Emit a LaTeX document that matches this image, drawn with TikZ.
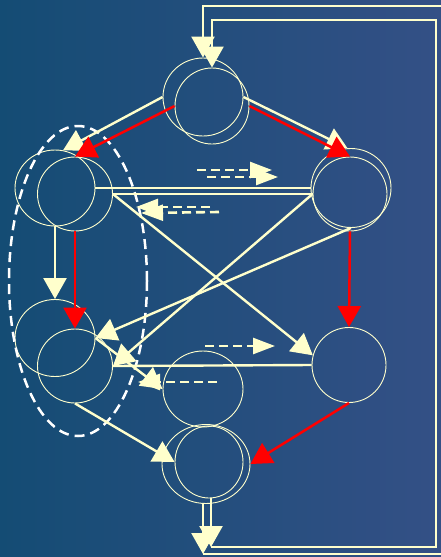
\documentclass[tikz,border=0pt]{standalone}
\usetikzlibrary{arrows.meta,shapes.geometric}
\definecolor{cream}{RGB}{255,255,204}
\definecolor{bgL}{RGB}{20,76,116}
\definecolor{bgM}{RGB}{66,94,142}
\definecolor{bgR}{RGB}{52,80,134}
\begin{document}
\begin{tikzpicture}[x=1pt,y=-1pt,
  ring/.style={draw=cream, line width=0.9pt, ellipse, inner sep=0pt},
  edge/.style={draw=cream, line width=2.4pt},
  redge/.style={draw=red, line width=2.5pt},
  tip/.style={-{Triangle[length=21pt,width=23pt]}},
  dtip/.style={-{Triangle[length=22pt,width=16pt]}},
  dline/.style={draw=cream, line width=2.6pt, dash pattern=on 9pt off 5pt},
  loopline/.style={draw=cream, line width=2.6pt}]
\useasboundingbox (0,0) rectangle (441,557);
\shade[left color=bgL, middle color=bgM, right color=bgR] (0,0) rectangle (441,557);
\clip (0,0) rectangle (441,557);

% nodes (layer 1)
\node[ring, minimum width=80pt, minimum height=78pt] (t1) at (203,97) {};
\node[ring, minimum width=80pt, minimum height=76pt] (l1) at (55,188) {};
\node[ring, minimum width=80pt, minimum height=79pt] (r1) at (351,188) {};
\node[ring, minimum width=80pt, minimum height=77pt] (lb1) at (55,338) {};
\node[ring, minimum width=74pt, minimum height=75pt] (rb) at (349,365) {};
\node[ring, minimum width=80pt, minimum height=76pt] (m) at (203,389) {};
\node[ring, minimum width=88pt, minimum height=79pt] (b1) at (206,464) {};
% nodes (layer 2)
\node[ring, minimum width=74pt, minimum height=76pt] (t2) at (212,106) {};
\node[ring, minimum width=75pt, minimum height=74pt] (l2) at (75,194) {};
\node[ring, minimum width=74pt, minimum height=74pt] (r2) at (350,194) {};
\node[ring, minimum width=75pt, minimum height=74pt] (lb2) at (75,366) {};
\node[ring, minimum width=68pt, minimum height=72pt] (b2) at (209,462) {};

% dashed group ellipse
\node[draw=white, line width=2.5pt, dash pattern=on 10pt off 6pt, ellipse,
      minimum width=138pt, minimum height=310pt, inner sep=0pt] (grp) at (78,281) {};

% cream edges
\draw[edge,tip] (t1.west) -- (l1.78);
\draw[edge,tip] (t1.east) -- (r1.95);
\draw[edge,tip] (l1.south) -- (lb1.north);
\draw[edge] (l1.east) -- (r1.west);
\draw[edge] (l2.east) -- (r2.west);
\draw[edge,tip] (l2.east) -- (rb.165);
\draw[edge,tip] (r2.west) -- (lb2.east);
\draw[edge,tip] (r1.south) -- (lb1.east);
\draw[edge] (lb2.east) -- (rb.west);
\draw[edge,tip] (lb1.east) -- (m.west);
\draw[edge,tip] (lb2.south) -- (b2.west);

% red edges
\draw[redge,tip] (t2.west) -- (l2.north);
\draw[redge,tip] (t2.east) -- (r2.north);
\draw[redge,tip] (l2.south) -- (lb2.north);
\draw[redge,tip] (r2.south) -- (rb.north);
\draw[redge,tip] (rb.south) -- (b1.east);

% feedback loops
\coordinate (ob) at (203,554);
\coordinate (obr) at (447,554);
\coordinate (otr) at (447,6);
\coordinate (otl) at (203,6);
\coordinate (ib) at (211,547);
\coordinate (ibr) at (436,547);
\coordinate (itr) at (436,20);
\coordinate (itl) at (212,20);
\draw[loopline,tip] (b1.south -| ob) -- (ob);
\draw[loopline,tip] (ob) -- (obr) -- (otr) -- (otl) -- (t1.north);
\draw[loopline,tip] (b2.south -| ib) -- (ib);
\draw[loopline,tip] (ib) -- (ibr) -- (itr) -- (itl) -- (t2.north);

% dashed arrows
\coordinate (d1s) at (197,170); \coordinate (d1e) at (272,170);
\coordinate (d2s) at (207,177); \coordinate (d2e) at (278,177);
\coordinate (d3s) at (210,207); \coordinate (d3e) at (136,207);
\coordinate (d4s) at (219,212); \coordinate (d4e) at (141,213);
\coordinate (d5s) at (205,346); \coordinate (d5e) at (275,346);
\coordinate (d6s) at (217,382); \coordinate (d6e) at (138,382);
\draw[dline,dtip] (d1s) -- (d1e);
\draw[dline,dtip] (d2s) -- (d2e);
\draw[dline,dtip] (d3s) -- (d3e);
\draw[dline,dtip] (d4s) -- (d4e);
\draw[dline,dtip] (d5s) -- (d5e);
\draw[dline,dtip] (d6s) -- (d6e);
\end{tikzpicture}
\end{document}
